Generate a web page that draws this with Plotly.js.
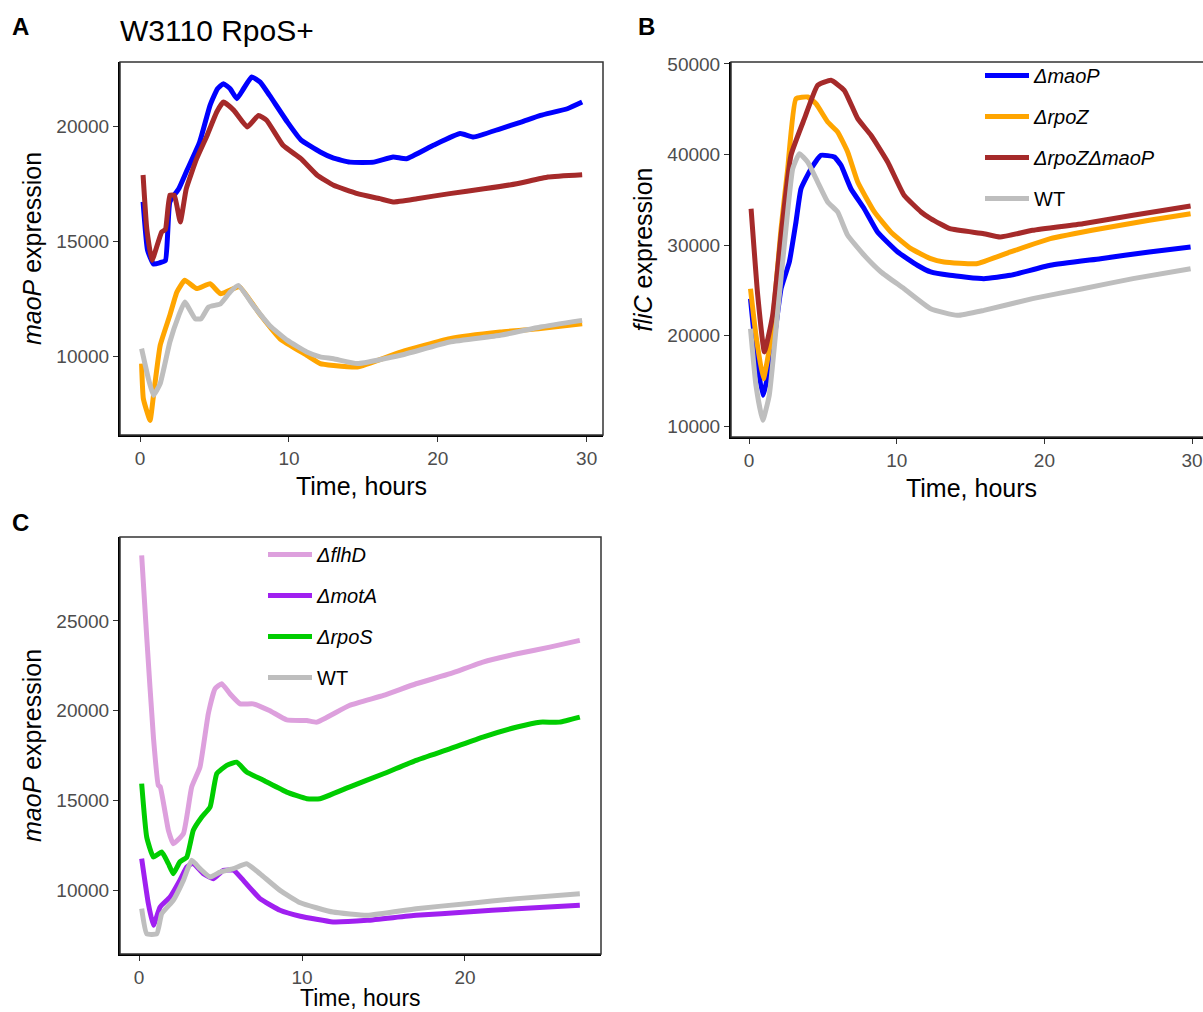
<!DOCTYPE html>
<html>
<head>
<meta charset="utf-8">
<script src="https://cdn.plot.ly/plotly-3.0.1.min.js"></script>
<style>
html,body{margin:0;padding:0;overflow:hidden;background:#fff;width:1203px;height:1012px;}
#chart{width:1215px;height:1012px;}
</style>
</head>
<body>
<div id="chart"></div>
<script>
// ---------- Panel A: maoP expression, W3110 RpoS+ ----------
const A_maoP_t = [0.2,0.5,0.9,1.3,1.7,2.0,2.6,3.1,4.0,4.7,5.2,5.6,6.05,6.5,6.95,7.5,8.07,8.7,9.9,10.8,12.1,13.0,14.1,15.7,17.0,17.9,19.7,21.5,22.4,24.2,25.6,26.9,28.7,29.7];
const A_maoP_v = [16700,14600,14000,14050,14150,16700,17270,18000,19300,20900,21620,21840,21620,21190,21620,22130,21910,21330,20170,19400,18870,18600,18430,18430,18650,18580,19160,19670,19520,19880,20170,20460,20750,21040];
const A_rpoZ_t = [0.1,0.22,0.67,0.9,1.35,2.0,2.47,3.0,3.8,4.7,5.4,6.27,6.7,8.1,9.4,11.2,12.1,13.0,14.6,17.5,20.8,24.2,26.9,29.7];
const A_rpoZ_v = [9670,8140,7200,8290,10460,11770,12780,13290,12930,13140,12710,12930,13000,11770,10750,10030,9670,9590,9520,10170,10750,11040,11190,11400];
const A_rpoZmaoP_t = [0.2,0.45,0.8,1.45,1.7,2.0,2.3,2.7,3.1,3.8,4.5,5.15,5.6,6.3,7.2,7.95,8.5,9.6,10.8,11.9,13.0,14.6,16.1,17.0,18.6,20.8,23.1,25.3,27.4,29.7];
const A_rpoZmaoP_v = [17870,15530,14160,15390,15500,16990,16990,15830,17270,18580,19590,20610,21040,20680,19960,20460,20250,19160,18580,17860,17420,17060,16840,16700,16840,17060,17270,17490,17780,17880];
const A_WT_t = [0.1,0.56,0.9,1.35,2.0,2.6,3.0,3.7,4.1,4.6,5.4,6.05,6.6,7.6,8.7,9.9,11.2,12.1,13.0,14.6,17.5,20.8,24.2,26.9,29.7];
const A_WT_v = [10320,9010,8290,8800,10610,11770,12350,11620,11620,12130,12270,12780,13070,12200,11330,10680,10170,9960,9880,9670,10030,10610,10900,11260,11550];

// ---------- Panel B: fliC expression ----------
const B_maoP_t = [0.1,0.47,0.93,1.49,2.17,2.73,3.18,3.52,4.2,4.87,5.78,6.23,6.9,7.8,8.7,10.07,11.4,12.3,13.6,15.9,17.7,20.4,23.8,27.1,29.9];
const B_maoP_v = [24070,18180,13390,17070,25170,28120,32540,36220,38430,39910,39720,38800,36220,34010,31440,29230,27760,27020,26650,26280,26650,27760,28490,29230,29780];
const B_rpoZ_t = [0.1,0.47,0.97,1.49,2.17,2.62,3.18,3.97,4.54,5.33,6.0,6.68,7.36,8.49,9.6,10.97,12.3,13.2,15.4,17.7,20.4,23.8,27.1,29.9];
const B_rpoZ_v = [25170,20020,15230,19650,31800,38430,46170,46350,45610,43590,42490,40280,36960,33650,31440,29590,28490,28120,27930,29230,30700,31800,32730,33460];
const B_rpoZmaoP_t = [0.14,0.59,1.04,1.6,2.17,2.84,3.75,4.65,5.55,6.45,7.36,8.26,9.39,10.5,11.65,12.3,13.6,15.9,17.0,19.2,22.6,26.0,29.9];
const B_rpoZmaoP_v = [34010,24440,18180,22230,31070,39910,43960,47650,48200,47090,43960,42120,39170,35490,33650,32910,31800,31250,30880,31620,32350,33280,34310];
const B_WT_t = [0.1,0.47,0.93,1.37,1.94,2.5,2.96,3.41,3.97,4.65,5.33,6.0,6.68,7.8,8.94,10.5,12.3,14.1,15.9,19.2,22.6,26.0,29.9];
const B_WT_v = [20750,14500,10630,13390,22600,31800,38430,40090,39170,36960,34750,33650,31070,28860,27020,25170,22960,22230,22780,24070,25170,26280,27380];

// ---------- Panel C: maoP expression ----------
const C_flhD_t = [0.16,0.47,0.88,1.18,1.3,1.8,2.1,2.72,3.23,3.74,4.25,4.66,5.07,5.58,6.2,7.0,8.0,9.06,10.3,10.9,12.9,15.0,17.0,19.1,21.1,23.2,25.2,27.05];
const C_flhD_v = [28660,24100,18530,15840,15750,13330,12580,13140,15740,16860,19830,21220,21500,20940,20380,20380,20010,19490,19450,19360,20290,20850,21500,22060,22710,23170,23540,23920];
const C_motA_t = [0.16,0.57,0.88,1.29,1.9,2.5,2.93,3.3,3.95,4.56,5.17,5.8,6.4,7.42,8.65,9.9,11.9,14.0,17.0,20.1,23.2,27.05];
const C_motA_v = [11750,9240,8030,9050,9610,10540,11280,11500,10910,10630,11100,11100,10540,9520,8870,8540,8220,8310,8590,8770,8960,9150];
const C_rpoS_t = [0.16,0.47,0.88,1.39,1.8,2.1,2.5,2.93,3.33,3.85,4.36,4.77,5.38,5.99,6.6,7.63,9.06,10.3,11.1,12.9,15.0,17.0,19.1,21.1,23.2,24.6,25.8,27.05];
const C_rpoS_v = [15930,12950,11840,12120,11470,10910,11560,11840,13330,14070,14630,16490,16950,17130,16580,16120,15460,15090,15090,15740,16480,17230,17880,18530,19090,19360,19360,19640];
const C_WT_t = [0.16,0.47,1.09,1.39,2.1,2.72,3.23,3.74,4.36,4.97,5.79,6.6,7.42,8.65,9.9,11.9,14.0,17.0,20.1,23.2,27.05];
const C_WT_v = [8960,7560,7560,8680,9430,10540,11660,11190,10720,11000,11190,11470,10910,9980,9290,8770,8590,8960,9240,9520,9790];

// labels / ticks
const namesB = ['<i>ΔmaoP</i>','<i>ΔrpoZ</i>','<i>ΔrpoZΔmaoP</i>','WT'];
const namesC = ['<i>ΔflhD</i>','<i>ΔmotA</i>','<i>ΔrpoS</i>','WT'];
const xTitle = 'Time, hours';
const ticksA_x = [0,10,20,30], ticksA_y = [10000,15000,20000];
const ticksB_x = [0,10,20,30], ticksB_y = [10000,20000,30000,40000,50000];
const ticksC_x = [0,10,20], ticksC_y = [10000,15000,20000,25000];

const colB = ['#0000FF','#FFA500','#A52A2A','#BEBEBE'];
const colC = ['#DDA0DD','#A020F0','#00CD00','#BEBEBE'];

const W = 1215, H = 1012;
const FONT = 'Liberation Sans, Arial, sans-serif';
const LW = 5;

function tr(t, v, color, name, xa, ya, leg, show, grp){
  return {x:t, y:v, type:'scatter', mode:'lines', name:name,
    line:{color:color, width:LW, shape:'spline', smoothing:0.4},
    xaxis:xa, yaxis:ya, showlegend:show, legend:leg, legendgroup:grp, hoverinfo:'skip'};
}

const data = [
  tr(A_maoP_t, A_maoP_v, colB[0], namesB[0], 'x', 'y', 'legend', false, 'a1'),
  tr(A_rpoZ_t, A_rpoZ_v, colB[1], namesB[1], 'x', 'y', 'legend', false, 'a2'),
  tr(A_rpoZmaoP_t, A_rpoZmaoP_v, colB[2], namesB[2], 'x', 'y', 'legend', false, 'a3'),
  tr(A_WT_t, A_WT_v, colB[3], namesB[3], 'x', 'y', 'legend', false, 'a4'),
  tr(B_maoP_t, B_maoP_v, colB[0], namesB[0], 'x2', 'y2', 'legend', true, 'b1'),
  tr(B_rpoZ_t, B_rpoZ_v, colB[1], namesB[1], 'x2', 'y2', 'legend', true, 'b2'),
  tr(B_rpoZmaoP_t, B_rpoZmaoP_v, colB[2], namesB[2], 'x2', 'y2', 'legend', true, 'b3'),
  tr(B_WT_t, B_WT_v, colB[3], namesB[3], 'x2', 'y2', 'legend', true, 'b4'),
  tr(C_flhD_t, C_flhD_v, colC[0], namesC[0], 'x3', 'y3', 'legend2', true, 'c1'),
  tr(C_motA_t, C_motA_v, colC[1], namesC[1], 'x3', 'y3', 'legend2', true, 'c2'),
  tr(C_rpoS_t, C_rpoS_v, colC[2], namesC[2], 'x3', 'y3', 'legend2', true, 'c3'),
  tr(C_WT_t, C_WT_v, colC[3], namesC[3], 'x3', 'y3', 'legend2', true, 'c4')
];

function xax(dom, range, ticks, anchor, title){
  return {domain:dom, range:range, anchor:anchor, tickmode:'array', tickvals:ticks, tickformat:'d',
    showgrid:false, zeroline:false, showline:true, linecolor:'#000', linewidth:2,
    ticks:'outside', ticklen:5, tickcolor:'#333', tickwidth:1,
    tickfont:{family:FONT, size:19, color:'#4d4d4d'},
    title:{text:title, font:{family:FONT, size:25, color:'#000'}, standoff:10}};
}
function yax(dom, range, ticks, anchor, title){
  return {domain:dom, range:range, anchor:anchor, tickmode:'array', tickvals:ticks, tickformat:'d',
    showgrid:false, zeroline:false, showline:true, linecolor:'#000', linewidth:2,
    ticks:'outside', ticklen:5, tickcolor:'#333', tickwidth:1,
    tickfont:{family:FONT, size:19, color:'#4d4d4d'},
    title:{text:title, font:{family:FONT, size:25, color:'#000'}, standoff:8}};
}
const px = v => v / W, py = v => 1 - v / H;

const layout = {
  width:W, height:H, margin:{l:0,r:0,t:0,b:0}, paper_bgcolor:'#fff', plot_bgcolor:'#fff',
  font:{family:FONT},
  xaxis: xax([px(120), px(603)], [-1.35, 31.1], ticksA_x, 'y', xTitle),
  yaxis: yax([py(435), py(62)], [6565, 22783], ticksA_y, 'x', '<i>maoP</i> expression'),
  xaxis2: xax([px(731), px(1212)], [-1.22, 31.35], ticksB_x, 'y2', xTitle),
  yaxis2: yax([py(437), py(62)], [8785, 50220], ticksB_y, 'x2', '<i>fliC</i> expression'),
  xaxis3: xax([px(120), px(601)], [-1.17, 28.35], ticksC_x, 'y3', ''),
  yaxis3: yax([py(954), py(537)], [6433, 29682], ticksC_y, 'x3', '<i>maoP</i> expression'),
  legend:{x:px(980), y:py(56), xanchor:'left', yanchor:'top', bgcolor:'rgba(0,0,0,0)',
    font:{family:FONT, size:20, color:'#000'}, tracegroupgap:12, itemwidth:44},
  legend2:{x:px(263), y:py(535), xanchor:'left', yanchor:'top', bgcolor:'rgba(0,0,0,0)',
    font:{family:FONT, size:20, color:'#000'}, tracegroupgap:12, itemwidth:44},
  shapes:[
    {type:'rect', xref:'x domain', yref:'y domain', x0:0, x1:1, y0:0, y1:1, line:{color:'#333', width:1.5}},
    {type:'rect', xref:'x2 domain', yref:'y2 domain', x0:0, x1:1, y0:0, y1:1, line:{color:'#333', width:1.5}},
    {type:'rect', xref:'x3 domain', yref:'y3 domain', x0:0, x1:1, y0:0, y1:1, line:{color:'#333', width:1.5}}
  ],
  annotations:[
    {text:'<b>A</b>', x:px(10), y:py(27), xref:'paper', yref:'paper', xanchor:'left', yanchor:'middle', showarrow:false, font:{family:FONT, size:24, color:'#000'}},
    {text:'W3110 RpoS+', x:px(118), y:py(30), xref:'paper', yref:'paper', xanchor:'left', yanchor:'middle', showarrow:false, font:{family:FONT, size:30, color:'#000'}},
    {text:'<b>B</b>', x:px(636), y:py(27), xref:'paper', yref:'paper', xanchor:'left', yanchor:'middle', showarrow:false, font:{family:FONT, size:24, color:'#000'}},
    {text:'<b>C</b>', x:px(10), y:py(522), xref:'paper', yref:'paper', xanchor:'left', yanchor:'middle', showarrow:false, font:{family:FONT, size:24, color:'#000'}},
    {text:xTitle, x:0.5, y:py(1012), xref:'x3 domain', yref:'paper', xanchor:'center', yanchor:'bottom', borderpad:0, showarrow:false, font:{family:FONT, size:23, color:'#000'}}
  ]
};

Plotly.newPlot('chart', data, layout, {staticPlot:true, displayModeBar:false});
</script>
</body>
</html>
